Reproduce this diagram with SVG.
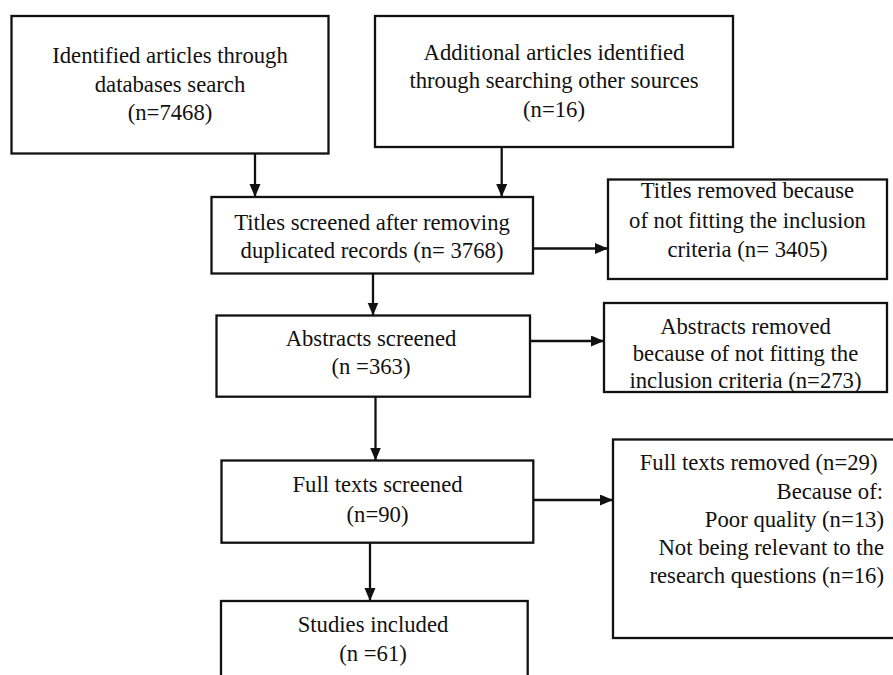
<svg xmlns="http://www.w3.org/2000/svg" width="893" height="675" viewBox="0 0 893 675">
<defs>
<style>
.box{fill:#fff;stroke:#111;stroke-width:2.3}
.t{font-family:"Liberation Serif","Times New Roman",serif;font-size:22.7px;fill:#111;text-anchor:middle}
.r{text-anchor:end}
.c{fill:none;stroke:#111;stroke-width:2.3}
</style>
<marker id="ah" markerUnits="userSpaceOnUse" markerWidth="14" markerHeight="12" refX="13" refY="5.5" orient="auto">
<path d="M0,0 L13,5.5 L0,11 z" fill="#111"/>
</marker>
</defs>
<rect width="893" height="675" fill="#fff"/>
<g id="connectors">
<line class="c" x1="255" y1="153.5" x2="255" y2="197" marker-end="url(#ah)"/>
<line class="c" x1="501.7" y1="147" x2="501.7" y2="197" marker-end="url(#ah)"/>
<line class="c" x1="533" y1="248.5" x2="608" y2="248.5" marker-end="url(#ah)"/>
<line class="c" x1="373" y1="273.5" x2="373" y2="315.5" marker-end="url(#ah)"/>
<line class="c" x1="530" y1="341" x2="604" y2="341" marker-end="url(#ah)"/>
<line class="c" x1="375.5" y1="396.7" x2="375.5" y2="460.5" marker-end="url(#ah)"/>
<line class="c" x1="533.3" y1="500" x2="613" y2="500" marker-end="url(#ah)"/>
<line class="c" x1="370" y1="542.7" x2="370" y2="601" marker-end="url(#ah)"/>
</g>
<g id="identified">
<rect class="box" x="11.5" y="16" width="317" height="137.5"/>
<text class="t" x="170" y="63.3">Identified articles through</text>
<text class="t" x="170" y="91.7">databases search</text>
<text class="t" x="170" y="120">(n=7468)</text>
</g>
<g id="additional">
<rect class="box" x="375" y="16" width="358" height="131"/>
<text class="t" x="554" y="60">Additional articles identified</text>
<text class="t" x="554" y="88.3">through searching other sources</text>
<text class="t" x="554" y="116.7">(n=16)</text>
</g>
<g id="titles-screened">
<rect class="box" x="211.5" y="197" width="321.5" height="76.5"/>
<text class="t" x="372" y="230">Titles screened after removing</text>
<text class="t" x="372" y="258">duplicated records (n= 3768)</text>
</g>
<g id="titles-removed">
<rect class="box" x="608" y="179.5" width="279" height="99.5"/>
<text class="t" x="747.5" y="198">Titles removed because</text>
<text class="t" x="747.5" y="227.5">of not fitting the inclusion</text>
<text class="t" x="747.5" y="257">criteria (n= 3405)</text>
</g>
<g id="abstracts-screened">
<rect class="box" x="216.5" y="315.5" width="313.5" height="81.2"/>
<text class="t" x="371" y="346">Abstracts screened</text>
<text class="t" x="371" y="374">(n =363)</text>
</g>
<g id="abstracts-removed">
<rect class="box" x="604" y="303" width="283" height="89"/>
<text class="t" x="745.5" y="334">Abstracts removed</text>
<text class="t" x="745.5" y="361">because of not fitting the</text>
<text class="t" x="745.5" y="387.5">inclusion criteria (n=273)</text>
</g>
<g id="fulltexts-screened">
<rect class="box" x="221.5" y="460.5" width="311.8" height="82.2"/>
<text class="t" x="377.5" y="491.7">Full texts screened</text>
<text class="t" x="377.5" y="521.7">(n=90)</text>
</g>
<g id="fulltexts-removed">
<rect class="box" x="613" y="439.5" width="290" height="198.5"/>
<text class="t r" x="877.5" y="470">Full texts removed (n=29)</text>
<text class="t r" x="883" y="498.5">Because of:</text>
<text class="t r" x="884" y="527">Poor quality (n=13)</text>
<text class="t r" x="884" y="555">Not being relevant to the</text>
<text class="t r" x="884" y="583">research questions (n=16)</text>
</g>
<g id="studies-included">
<rect class="box" x="221" y="601" width="306.7" height="90"/>
<text class="t" x="373" y="631.7">Studies included</text>
<text class="t" x="373" y="660.7">(n =61)</text>
</g>
</svg>
